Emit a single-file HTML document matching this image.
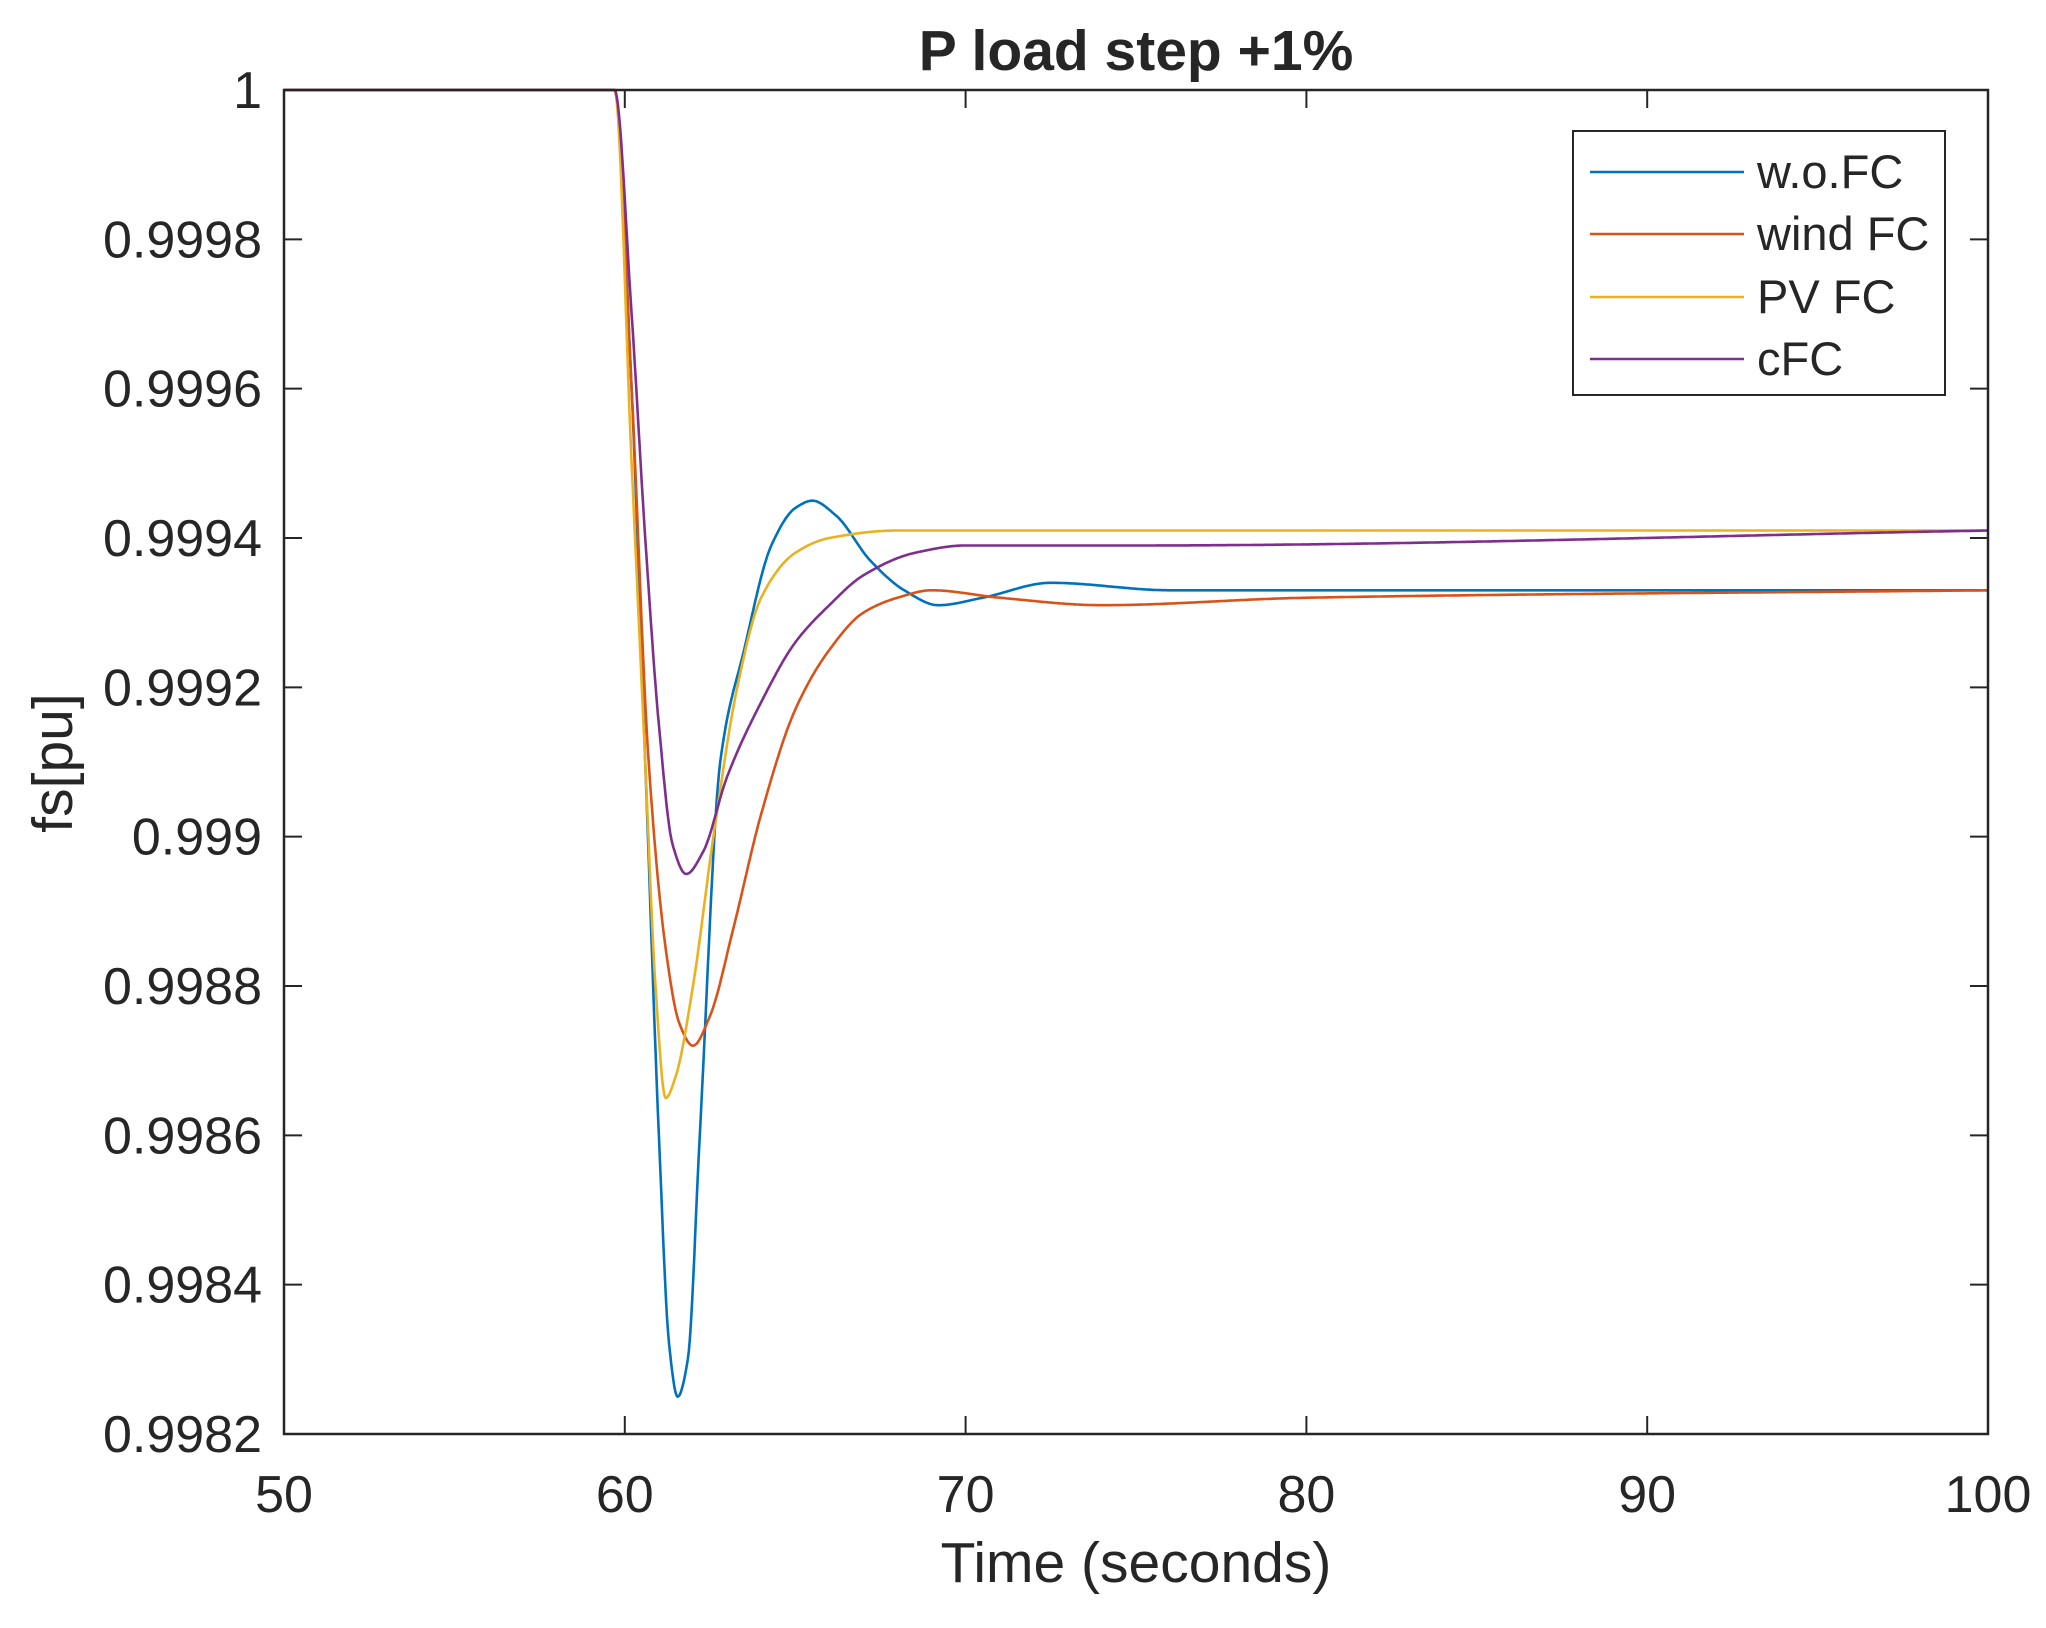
<!DOCTYPE html>
<html><head><meta charset="utf-8"><style>
html,body{margin:0;padding:0;background:#fff}
svg text{font-family:"Liberation Sans",Arial,sans-serif;fill:#262626}
</style></head><body>
<svg id="s" width="2046" height="1623" viewBox="0 0 2046 1623" xmlns="http://www.w3.org/2000/svg">
<rect width="2046" height="1623" fill="#fff"/>
<text x="1136" y="70" font-size="57" font-weight="bold" text-anchor="middle" fill="#000">P load step +1%</text>
<g id="ticks" stroke="#262626" stroke-width="2"></g>
<g id="curves" fill="none" stroke-width="2.6" stroke-linejoin="round"></g>
<rect x="284" y="90" width="1704" height="1344" fill="none" stroke="#262626" stroke-width="2.5"/>
<g id="labels" font-size="52"></g>
<text x="1136" y="1582" font-size="57" text-anchor="middle">Time (seconds)</text>
<text transform="translate(72,763) rotate(-90)" font-size="57" text-anchor="middle">fs[pu]</text>
<rect x="1573" y="131" width="372" height="264" fill="#fff" stroke="#262626" stroke-width="2"/>
<g font-size="47">
<line x1="1590" y1="172" x2="1744" y2="172" stroke="#0072BD" stroke-width="2.6"/><text x="1757" y="188">w.o.FC</text>
<line x1="1590" y1="234" x2="1744" y2="234" stroke="#D95319" stroke-width="2.6"/><text x="1757" y="250">wind FC</text>
<line x1="1590" y1="297" x2="1744" y2="297" stroke="#EDB120" stroke-width="2.6"/><text x="1757" y="313">PV FC</text>
<line x1="1590" y1="359" x2="1744" y2="359" stroke="#7E2F8E" stroke-width="2.6"/><text x="1757" y="375">cFC</text>
</g>
</svg>
<script>
var NS="http://www.w3.org/2000/svg";
function X(t){return 284+(t-50)*34.08}
function Y(v){return 90+(1-v)*746666.7}
var tk=document.getElementById("ticks"),lb=document.getElementById("labels");
function el(p,n,a,txt){var e=document.createElementNS(NS,n);for(var k in a)e.setAttribute(k,a[k]);if(txt)e.textContent=txt;p.appendChild(e);}
for(var t=50;t<=100;t+=10){var x=X(t);
el(tk,"line",{x1:x,y1:1434,x2:x,y2:1416});el(tk,"line",{x1:x,y1:90,x2:x,y2:108});
el(lb,"text",{x:x,y:1512,"text-anchor":"middle"},String(t));}
var yl=["0.9982","0.9984","0.9986","0.9988","0.999","0.9992","0.9994","0.9996","0.9998","1"];
for(var i=0;i<10;i++){var v=0.9982+i*0.0002,y=Y(v);
el(tk,"line",{x1:284,y1:y,x2:302,y2:y});el(tk,"line",{x1:1988,y1:y,x2:1970,y2:y});
el(lb,"text",{x:262,y:y+18,"text-anchor":"end"},yl[i]);}
var D={
"#0072BD":[[50,1],[59.7,1],[60.2,0.9996],[60.6,0.9991],[61.0,0.9986],[61.3,0.99832],[61.55,0.99825],[61.85,0.9983],[62.2,0.9986],[62.8,0.9991],[63.5,0.99925],[64.3,0.99939],[65.0,0.99944],[65.5,0.99945],[66.2,0.99943],[67.2,0.99937],[68.2,0.99933],[69.2,0.99931],[70.5,0.99932],[72.5,0.99934],[76,0.99933],[100,0.99933]],
"#D95319":[[50,1],[59.7,1],[60.2,0.9996],[60.7,0.9991],[61.2,0.99885],[61.6,0.99875],[62.0,0.99872],[62.5,0.99876],[63.2,0.99888],[64,0.99903],[65,0.99917],[66,0.99925],[67,0.9993],[68,0.99932],[69,0.99933],[71,0.99932],[74,0.99931],[80,0.99932],[100,0.99933]],
"#EDB120":[[50,1],[59.7,1],[60.2,0.9995],[60.6,0.9991],[60.9,0.9988],[61.2,0.99865],[61.5,0.99868],[62,0.9988],[62.6,0.999],[63.3,0.9992],[64,0.99932],[65,0.99938],[66,0.9994],[68,0.99941],[100,0.99941]],
"#7E2F8E":[[50,1],[59.7,1],[60.2,0.9997],[60.6,0.9994],[61.0,0.99915],[61.4,0.99899],[61.8,0.99895],[62.3,0.99898],[63,0.99908],[64,0.99918],[65,0.99926],[66,0.99931],[67,0.99935],[68.5,0.99938],[70,0.99939],[75,0.99939],[100,0.99941]]};
function pchip(P){var n=P.length,h=[],d=[],m=[];
for(var i=0;i<n-1;i++){h[i]=P[i+1][0]-P[i][0];d[i]=(P[i+1][1]-P[i][1])/h[i];}
m[0]=d[0];m[n-1]=d[n-2];
for(var i=1;i<n-1;i++){if(d[i-1]*d[i]<=0)m[i]=0;else{var w1=2*h[i]+h[i-1],w2=h[i]+2*h[i-1];m[i]=(w1+w2)/(w1/d[i-1]+w2/d[i]);}}
var out=[];
for(var i=0;i<n-1;i++){var steps=Math.max(2,Math.ceil(h[i]*30));
for(var k=0;k<steps;k++){var s=k/steps,t=P[i][0]+s*h[i];
var h00=2*s*s*s-3*s*s+1,h10=s*s*s-2*s*s+s,h01=-2*s*s*s+3*s*s,h11=s*s*s-s*s;
var v=h00*P[i][1]+h10*h[i]*m[i]+h01*P[i+1][1]+h11*h[i]*m[i+1];out.push([X(t),Y(v)]);}}
out.push([X(P[n-1][0]),Y(P[n-1][1])]);return out;}
var cg=document.getElementById("curves");
for(var c in D){var p=pchip(D[c]);
var d="M"+p.map(function(q){return q[0].toFixed(1)+","+q[1].toFixed(1)}).join("L");
el(cg,"path",{d:d,stroke:c});}
</script>
</body></html>
